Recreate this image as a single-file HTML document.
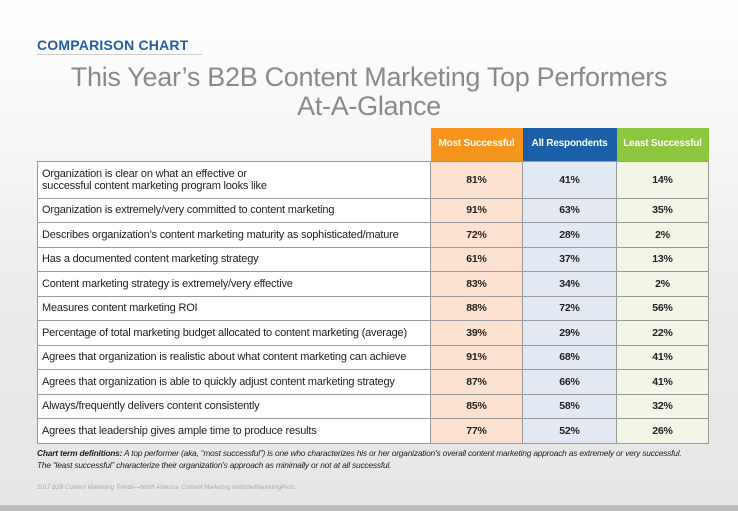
<!DOCTYPE html>
<html><head><style>
*{margin:0;padding:0;box-sizing:border-box}
body{width:738px;height:511px;overflow:hidden;font-family:"Liberation Sans",sans-serif;background:linear-gradient(#fff 0px,#fafafa 90px,#ebebeb 300px,#e6e6e6 500px);position:relative}
.cc{position:absolute;left:37px;top:37px;font-weight:bold;color:#1f5fa0;font-size:14px;letter-spacing:0.2px}
.ul{position:absolute;left:37px;top:54px;width:165px;height:1px;background:#ccc}
.t{position:absolute;left:0;width:738px;text-align:center;color:#8a8a8a;font-size:27px;letter-spacing:-0.3px}
table{position:absolute;left:37px;top:128px;border-collapse:collapse;font-size:11px;color:#222;letter-spacing:-0.2px}
td{border:1px solid #999;height:24.5px;padding:0 4px;line-height:12px}
td.l{width:393px;background:#fff}
td.o,td.b,td.g{text-align:center;font-weight:bold;font-size:10.5px}
td.o{width:92px;background:#fde3cf}td.b{width:94px;background:#e3e9f3}td.g{width:92px;background:#f1f6e6}
tr.h td{height:33px;color:#fff;font-weight:bold;font-size:10px;border:none}
tr.h td.o{background:#f7941d}tr.h td.b{background:#1b5fa8}tr.h td.g{background:#8dc63f}
tr.h td.e{background:none;border:none}
.fn{position:absolute;left:37px;top:447px;font-size:8.4px;font-style:italic;color:#222;line-height:12px;letter-spacing:-0.2px}
.src{position:absolute;left:37px;top:485px;font-size:6px;font-style:italic;color:#aaa}
.bar{position:absolute;left:0;top:505px;width:738px;height:6px;background:#bbb}
</style></head><body>
<div class="cc">COMPARISON CHART</div><div class="ul"></div>
<div class="t" style="top:62px">This Year’s B2B Content Marketing Top Performers</div>
<div class="t" style="top:91px">At-A-Glance</div>
<table>
<tr class="h"><td class="e"></td><td class="o">Most Successful</td><td class="b">All Respondents</td><td class="g">Least Successful</td></tr>
<tr><td class="l" style="height:37px">Organization is clear on what an effective or<br>successful content marketing program looks like</td><td class="o">81%</td><td class="b">41%</td><td class="g">14%</td></tr>
<tr><td class="l">Organization is extremely/very committed to content marketing</td><td class="o">91%</td><td class="b">63%</td><td class="g">35%</td></tr>
<tr><td class="l">Describes organization’s content marketing maturity as sophisticated/mature</td><td class="o">72%</td><td class="b">28%</td><td class="g">2%</td></tr>
<tr><td class="l">Has a documented content marketing strategy</td><td class="o">61%</td><td class="b">37%</td><td class="g">13%</td></tr>
<tr><td class="l">Content marketing strategy is extremely/very effective</td><td class="o">83%</td><td class="b">34%</td><td class="g">2%</td></tr>
<tr><td class="l">Measures content marketing ROI</td><td class="o">88%</td><td class="b">72%</td><td class="g">56%</td></tr>
<tr><td class="l">Percentage of total marketing budget allocated to content marketing (average)</td><td class="o">39%</td><td class="b">29%</td><td class="g">22%</td></tr>
<tr><td class="l">Agrees that organization is realistic about what content marketing can achieve</td><td class="o">91%</td><td class="b">68%</td><td class="g">41%</td></tr>
<tr><td class="l">Agrees that organization is able to quickly adjust content marketing strategy</td><td class="o">87%</td><td class="b">66%</td><td class="g">41%</td></tr>
<tr><td class="l">Always/frequently delivers content consistently</td><td class="o">85%</td><td class="b">58%</td><td class="g">32%</td></tr>
<tr><td class="l">Agrees that leadership gives ample time to produce results</td><td class="o">77%</td><td class="b">52%</td><td class="g">26%</td></tr>
</table>
<div class="fn"><b>Chart term definitions:</b> A top performer (aka, “most successful”) is one who characterizes his or her organization’s overall content marketing approach as extremely or very successful.<br>The “least successful” characterize their organization’s approach as minimally or not at all successful.</div>
<div class="src">2017 B2B Content Marketing Trends—North America: Content Marketing Institute/MarketingProfs</div>
<div class="bar"></div>
</body></html>
